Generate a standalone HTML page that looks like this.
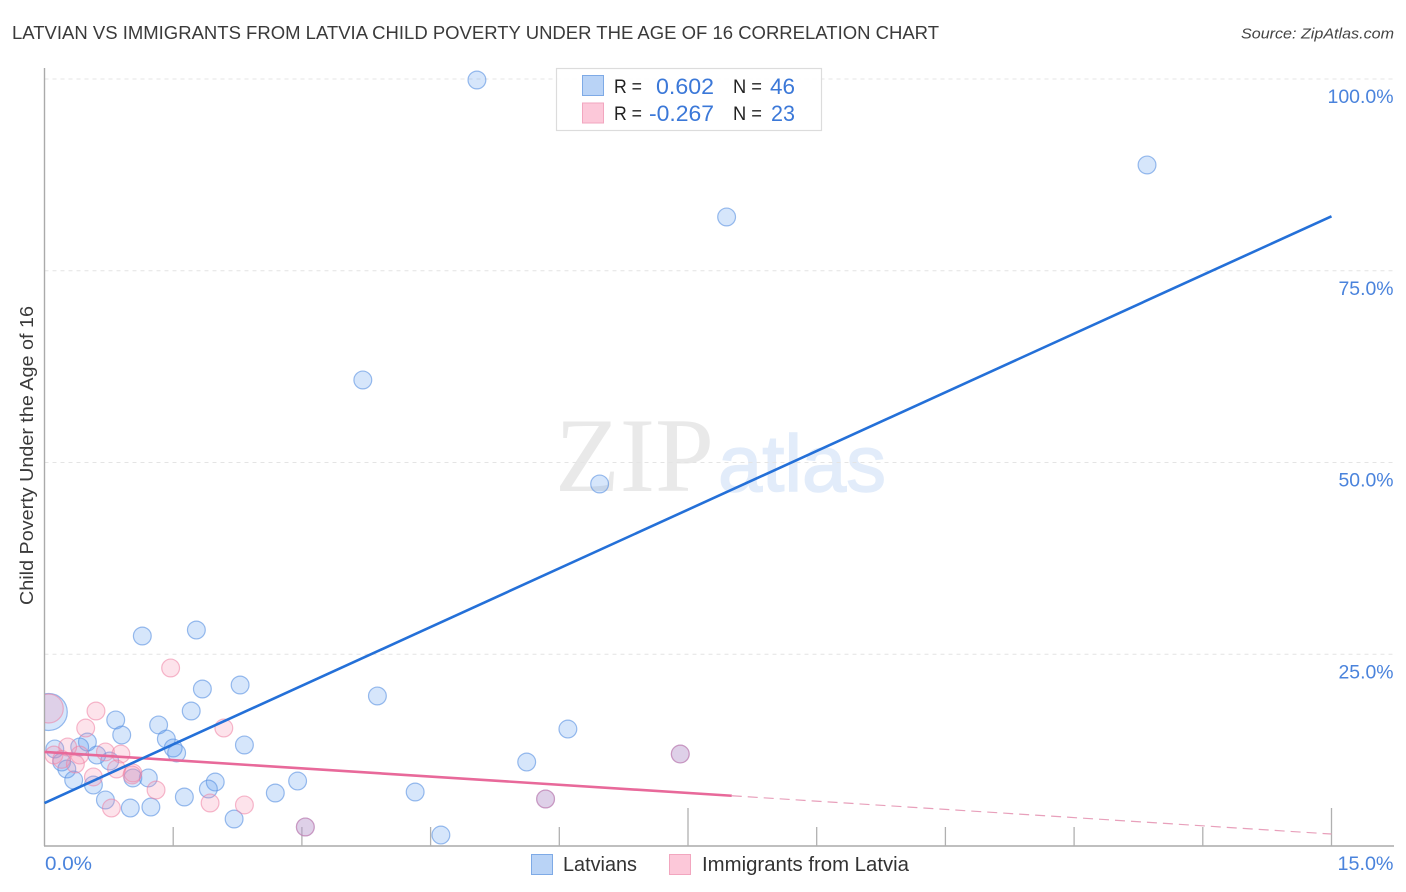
<!DOCTYPE html>
<html lang="en">
<head>
<meta charset="utf-8">
<title>Latvian vs Immigrants from Latvia Child Poverty Correlation Chart</title>
<style>
html,body{margin:0;padding:0;background:#fff;width:1406px;height:892px;overflow:hidden}
svg{display:block;font-family:"Liberation Sans",sans-serif}
</style>
</head>
<body>
<svg id="chart" xmlns="http://www.w3.org/2000/svg" width="1406" height="892" viewBox="0 0 1406 892">
  <defs><clipPath id="plot-clip"><rect x="45" y="60" width="1350" height="786"/></clipPath></defs>
  <text x="12" y="39" font-size="18.5" fill="#3a3a3a" textLength="927" lengthAdjust="spacingAndGlyphs">LATVIAN VS IMMIGRANTS FROM LATVIA CHILD POVERTY UNDER THE AGE OF 16 CORRELATION CHART</text>
  <text x="1241" y="38.5" font-size="15" font-style="italic" fill="#444" textLength="153" lengthAdjust="spacingAndGlyphs">Source: ZipAtlas.com</text>
  <g id="watermark">
    <text x="555" y="491" font-family="'Liberation Serif',serif" font-size="106" fill="#e9e9e9" textLength="159" lengthAdjust="spacingAndGlyphs">ZIP</text>
    <text x="718" y="491" style="font-family:'Liberation Sans',sans-serif" font-size="80" fill="#e2ecfa" stroke="#e2ecfa" stroke-width="1.5" textLength="168" lengthAdjust="spacingAndGlyphs">atlas</text>
  </g>
  <g id="grid"></g>
  <g id="axes"></g>
  <g id="points" clip-path="url(#plot-clip)"></g>
  <g id="trends"></g>
  <g id="labels"></g>
  <text transform="translate(33,605) rotate(-90)" font-size="18.5" fill="#3a3a3a" textLength="299" lengthAdjust="spacingAndGlyphs">Child Poverty Under the Age of 16</text>

  <g>
    <rect x="556.5" y="68.5" width="265" height="62" fill="#fff" fill-opacity="0.92" stroke="#dcdcdc" stroke-width="1.2"/>
    <rect x="582.5" y="75.5" width="21" height="20" fill="#b9d3f6" stroke="#7eaae6"/>
    <rect x="582.5" y="103" width="21" height="20" fill="#fcc8d9" stroke="#f2a6bf"/>
    <text x="614" y="93" font-size="19" fill="#222" textLength="28" lengthAdjust="spacingAndGlyphs">R =</text>
    <text x="656" y="94" font-size="22" fill="#3b78d8" textLength="58" lengthAdjust="spacingAndGlyphs">0.602</text>
    <text x="733" y="93" font-size="19" fill="#222" textLength="29" lengthAdjust="spacingAndGlyphs">N =</text>
    <text x="770" y="94" font-size="22" fill="#3b78d8" textLength="25" lengthAdjust="spacingAndGlyphs">46</text>
    <text x="614" y="120" font-size="19" fill="#222" textLength="28" lengthAdjust="spacingAndGlyphs">R =</text>
    <text x="649" y="121" font-size="22" fill="#3b78d8" textLength="65" lengthAdjust="spacingAndGlyphs">-0.267</text>
    <text x="733" y="120" font-size="19" fill="#222" textLength="29" lengthAdjust="spacingAndGlyphs">N =</text>
    <text x="771" y="121" font-size="22" fill="#3b78d8" textLength="24" lengthAdjust="spacingAndGlyphs">23</text>
  </g>

  <g>
    <rect x="531.5" y="854.5" width="21" height="20" fill="#b9d3f6" stroke="#7eaae6"/>
    <text x="563" y="871" font-size="20" fill="#333" textLength="74" lengthAdjust="spacingAndGlyphs">Latvians</text>
    <rect x="669.5" y="854.5" width="21" height="20" fill="#fcc8d9" stroke="#f2a6bf"/>
    <text x="702" y="871" font-size="20" fill="#333" textLength="207" lengthAdjust="spacingAndGlyphs">Immigrants from Latvia</text>
  </g>
</svg>
<script>
const blueX = [5.04,12.85,7.95,3.71,6.47,1.77,1.14,1.84,2.28,3.88,1.71,0.83,0.90,1.33,1.42,1.50,1.54,2.33,0.50,0.41,0.61,0.76,0.12,0.20,0.26,0.34,0.57,1.03,1.21,1.99,1.91,2.95,2.69,1.63,0.71,1.00,1.24,2.21,3.04,4.32,4.62,5.62,6.10,5.84,7.41,0.05];
const blueY = [99.87,88.79,82.01,60.76,47.2,28.16,27.38,20.47,20.99,19.56,17.6,16.43,14.47,15.78,13.95,12.78,12.13,13.17,13.56,12.91,11.86,11.08,12.65,10.95,10.04,8.6,7.95,8.87,8.87,8.34,7.43,8.47,6.91,6.39,6.0,4.95,5.08,3.52,2.48,7.04,1.43,10.95,15.25,6.13,11.99,17.47];
const pinkX = [1.47,2.09,0.60,0.48,0.27,0.41,0.11,0.36,0.71,0.89,0.84,0.57,1.03,1.02,1.30,1.93,2.33,0.78,3.04,5.84,7.41,0.20,0.05];
const pinkY = [23.21,15.38,17.6,15.38,12.91,11.86,11.86,10.69,12.26,11.99,10.04,9.0,9.52,9.26,7.3,5.61,5.35,4.95,2.48,6.13,11.99,11.3,17.93];
const blueTrendX = [0,15];
const blueTrendY = [5.6,82.1];
const pinkTrendX = [0,8.01];
const pinkTrendY = [12.26,6.55];
const pinkTrendDashX = [8.01,15];
const pinkTrendDashY = [6.55,1.56];
const xTickValues = [1.5,3,4.5,6,7.5,9,10.5,12,13.5,15];
const xMajorTicks = [7.5,15];
const yGridValues = [25,50,75,100];
const yTickLabels = ["25.0%","50.0%","75.0%","100.0%"];
const xEndValues = [0,15];
const xEndLabels = ["0.0%","15.0%"];

const NS = 'http://www.w3.org/2000/svg';
const xScale = v => 44.5 + v * 85.8;
const yScale = v => 846 - v * 7.67;
function make(tag, attrs, parent) {
  const el = document.createElementNS(NS, tag);
  for (const k in attrs) el.setAttribute(k, attrs[k]);
  parent.appendChild(el);
  return el;
}
const grid = document.getElementById('grid');
const axes = document.getElementById('axes');
const points = document.getElementById('points');
const trends = document.getElementById('trends');
const labels = document.getElementById('labels');

yGridValues.forEach((v, i) => {
  const line = make('line', {x1:44.5, x2:1394, y1:yScale(v), y2:yScale(v), stroke:'#e4e4e4', 'stroke-width':1, 'stroke-dasharray':'4 4'}, grid);
  
  
  const t = make('text', {x:1393.5, y:yScale(v)+24, 'text-anchor':'end', 'font-size':19.5, fill:'#4a83dc', textLength:yTickLabels[i].length*11, lengthAdjust:'spacingAndGlyphs'}, labels);
  t.textContent = yTickLabels[i];
  
  
});

const yAxis = make('line', {x1:44.5, x2:44.5, y1:68, y2:846, stroke:'#aaa', 'stroke-width':1.4}, axes);


const xAxis = make('line', {x1:44, x2:1394, y1:846, y2:846, stroke:'#aaa', 'stroke-width':1.4}, axes);


xTickValues.forEach(v => {
  const len = xMajorTicks.includes(v) ? 38 : 19;
  const tick = make('line', {x1:xScale(v), x2:xScale(v), y1:846-len, y2:846, stroke:'#b0b0b0', 'stroke-width':1.3}, axes);
  
  
});
xEndValues.forEach((v, i) => {
  const t = make('text', {x: i === 0 ? xScale(v)+0.5 : 1393.5, y:870, 'text-anchor': i === 0 ? 'start' : 'end', 'font-size':19.5, fill:'#4a83dc', textLength: i === 0 ? 47 : 56, lengthAdjust:'spacingAndGlyphs'}, labels);
  t.textContent = xEndLabels[i];
  
  
});

const largeBlue = blueX.length - 1;
const largePink = pinkX.length - 1;
blueX.forEach((v, i) => {
  const c = make('circle', {cx:xScale(v), cy:yScale(blueY[i]), r: i === largeBlue ? 18.5 : 8.9, fill:'#5c9cee', 'fill-opacity':0.25, stroke:'#5c93e2', 'stroke-opacity':0.62, 'stroke-width':1.2}, points);
  
  
});
pinkX.forEach((v, i) => {
  const c = make('circle', {cx:xScale(v), cy:yScale(pinkY[i]), r: i === largePink ? 14.5 : 8.9, fill:'#f78fb0', 'fill-opacity':0.25, stroke:'#ee7fa2', 'stroke-opacity':0.55, 'stroke-width':1.2}, points);
  
  
});

const pinkLine = make('line', {x1:xScale(pinkTrendX[0]), y1:yScale(pinkTrendY[0]), x2:xScale(pinkTrendX[1]), y2:yScale(pinkTrendY[1]), stroke:'#e8699a', 'stroke-width':2.6}, trends);


const pinkDash = make('line', {x1:xScale(pinkTrendDashX[0]), y1:yScale(pinkTrendDashY[0]), x2:xScale(pinkTrendDashX[1]), y2:yScale(pinkTrendDashY[1]), stroke:'#e8a0bb', 'stroke-width':1.2, 'stroke-dasharray':'10 6'}, trends);


const blueLine = make('line', {x1:xScale(blueTrendX[0]), y1:yScale(blueTrendY[0]), x2:xScale(blueTrendX[1]), y2:yScale(blueTrendY[1]), stroke:'#2470d8', 'stroke-width':2.6}, trends);


</script>
</body>
</html>
